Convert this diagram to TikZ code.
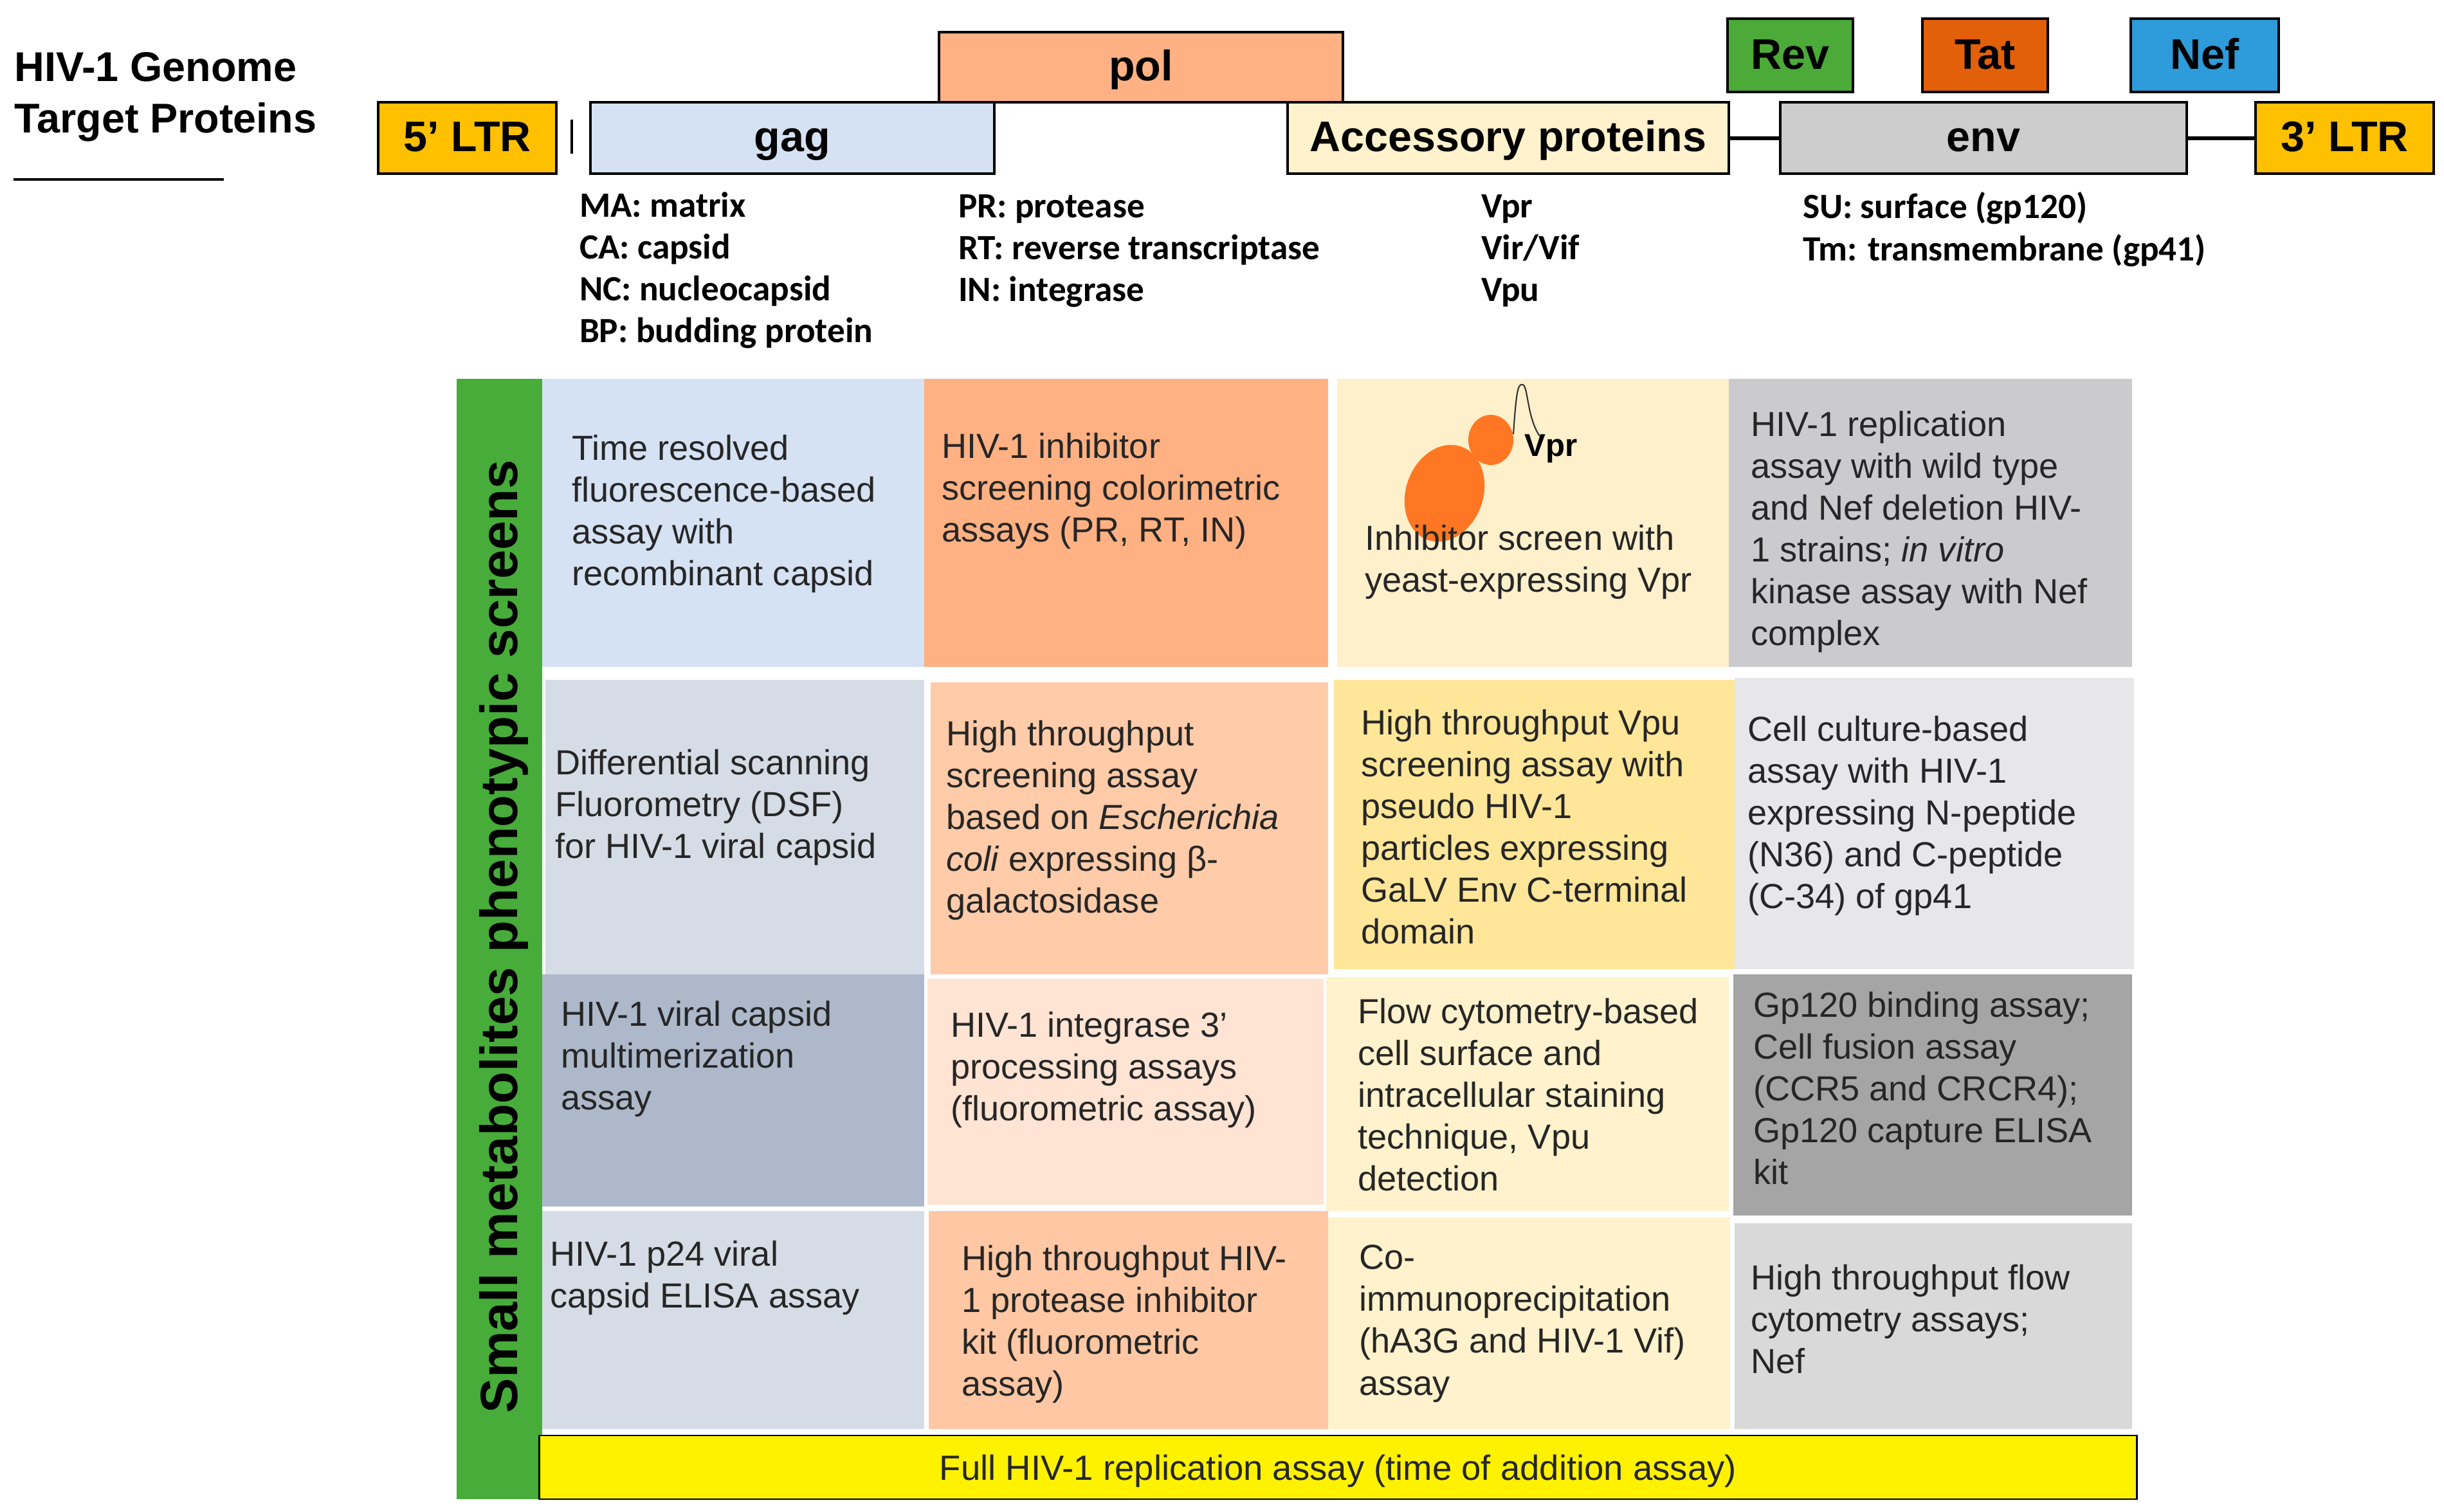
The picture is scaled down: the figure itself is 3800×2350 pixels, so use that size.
\documentclass[tikz,border=0pt]{standalone}
\usepackage{fontspec}
\setmainfont{Liberation Sans}
\newfontfamily\carl{Carlito}
\newcommand{\bodyf}{\fontsize{15.4pt}{18.5pt}\selectfont}
\newcommand{\boxf}{\fontsize{18.9pt}{22pt}\selectfont\bfseries}
\newcommand{\smallf}{\carl\fontsize{15.7pt}{18.5pt}\selectfont\bfseries}
\definecolor{ltrc}{HTML}{FFC000}
\definecolor{gagc}{HTML}{D5E2F3}
\definecolor{polc}{HTML}{FFB183}
\definecolor{accc}{HTML}{FFF2CC}
\definecolor{envc}{HTML}{CDCDCD}
\definecolor{revc}{HTML}{4BAA38}
\definecolor{tatc}{HTML}{E26009}
\definecolor{nefc}{HTML}{2E9BDA}
\definecolor{stripc}{HTML}{47AC3A}
\definecolor{yeastc}{HTML}{FF7722}
\definecolor{ca}{HTML}{D5E2F3}
\definecolor{cb}{HTML}{FFB183}
\definecolor{cc}{HTML}{FFF0CC}
\definecolor{cd}{HTML}{CBCBCD}
\definecolor{da}{HTML}{D6DCE5}
\definecolor{db}{HTML}{FFCBA8}
\definecolor{dc}{HTML}{FFE699}
\definecolor{dd}{HTML}{E7E6E8}
\definecolor{ea}{HTML}{ADB9CA}
\definecolor{eb}{HTML}{FFE3D3}
\definecolor{ec}{HTML}{FFF2CC}
\definecolor{ed}{HTML}{A5A5A5}
\definecolor{fa}{HTML}{D6DCE5}
\definecolor{fb}{HTML}{FFC7A3}
\definecolor{fc}{HTML}{FFF2CC}
\definecolor{fd}{HTML}{D9D9D9}
\tikzset{
  gbox/.style={draw=black,line width=1.1pt,inner sep=0pt,outer sep=0pt,font=\boxf,text=black,text height=13.6pt,text depth=1.5pt},
  body/.style={anchor=north west,inner sep=0pt,outer sep=0pt,align=left,font=\bodyf,text=black!85},
  small/.style={anchor=north west,inner sep=0pt,outer sep=0pt,align=left,font=\smallf},
  link/.style={line width=1.7pt,black}
}
% x1 y1 x2 y2 colour name textpos text
\newcommand{\cell}[8]{\fill[#5] (#1,#2) rectangle (#3,#4);\node[body] (#6) at (#7) {#8};}
\begin{document}
\begin{tikzpicture}[x=0.01cm,y=-0.01cm]
\useasboundingbox (0,0) rectangle (3800,2350);
% heading
\node[anchor=north west,inner sep=0pt,align=left,font=\fontsize{18.4pt}{22.5pt}\selectfont\bfseries] (title) at (22,81) {HIV-1 Genome\\Target Proteins};
\draw[line width=1pt] (21,279) coordinate (ula) -- (348,279) coordinate (ulb);
% genome boxes
\node[gbox,fill=ltrc,minimum width=2.77cm,minimum height=1.11cm] (ltrfive) at (726.5,214.5) {5’ LTR};
\node[gbox,fill=polc,minimum width=6.28cm,minimum height=1.09cm] (pol) at (1774,104.5) {pol};
\node[gbox,fill=gagc,minimum width=6.28cm,minimum height=1.11cm] (gag) at (1232,214.5) {gag};
\node[gbox,fill=accc,minimum width=6.86cm,minimum height=1.11cm] (acc) at (2345,214.5) {Accessory proteins};
\node[gbox,fill=envc,minimum width=6.32cm,minimum height=1.11cm] (env) at (3084,214.5) {env};
\node[gbox,fill=ltrc,minimum width=2.77cm,minimum height=1.11cm] (ltrthree) at (3645.5,214.5) {3’ LTR};
\node[gbox,fill=revc,minimum width=1.95cm,minimum height=1.14cm] (rev) at (2783.5,86) {Rev};
\node[gbox,fill=tatc,minimum width=1.95cm,minimum height=1.14cm] (tat) at (3086.5,86) {Tat};
\node[gbox,fill=nefc,minimum width=2.30cm,minimum height=1.14cm] (nef) at (3428,86) {Nef};
\draw[link] (acc.east) -- (env.west);
\draw[link] (env.east) -- (ltrthree.west);
\draw[line width=1.4pt] (889,186) coordinate (bara) -- (889,239) coordinate (barb);
% lists
\node[small] (lgag) at (901,299) {MA: matrix\\CA: capsid\\NC: nucleocapsid\\BP: budding protein};
\node[small] (lpol) at (1490,303) {PR: protease\\RT: reverse transcriptase\\IN: integrase};
\node[small] (lacc) at (2303,303) {Vpr\\Vir/Vif\\Vpu};
\node[small] (lenv) at (2803,299) {SU: surface (gp120)\\Tm: transmembrane (gp41)};
% strip
\fill[stripc] (710,589) rectangle (843,2331);
\node[rotate=90,inner sep=0pt,font=\fontsize{23.2pt}{26pt}\selectfont\bfseries,text=black] (strip) at (783,1456) {Small metabolites phenotypic screens};
% row 1
\cell{843}{589}{1437}{1037}{ca}{taa}{889,676}{Time resolved\\fluorescence-based\\assay with\\recombinant capsid}
\cell{1437}{589}{2065}{1037}{cb}{tab}{1464,673}{HIV-1 inhibitor\\screening colorimetric\\assays (PR, RT, IN)}
\fill[cc] (2079,589) rectangle (2688,1037);
\fill[yeastc,rotate around={-20:(2246,767)}] (2246,767) ellipse (60 and 77);
\fill[yeastc] (2318,684) ellipse (35 and 39);
\draw[line width=0.6pt,black!80] (2353,675) .. controls (2358,600) and (2361,598) .. (2367,598) .. controls (2376,598) and (2374,650) .. (2394,678);
\node[inner sep=0pt,font=\fontsize{14pt}{15pt}\selectfont\bfseries] (vpr) at (2412,698) {Vpr};
\node[body] (tac) at (2122,816) {Inhibitor screen with\\yeast-expressing Vpr};
\cell{2688}{589}{3315}{1037}{cd}{tad}{2722,639}{HIV-1 replication\\assay with wild type\\and Nef deletion HIV-\\1 strains; \textit{in vitro}\\kinase assay with Nef\\complex}
% row 2
\cell{848}{1057}{1437}{1515}{da}{tba}{863,1165}{Differential scanning\\Fluorometry (DSF)\\for HIV-1 viral capsid}
\cell{1447}{1061}{2065}{1515}{db}{tbb}{1471,1120}{High throughput\\screening assay\\based on \textit{Escherichia}\\\textit{coli} expressing β-\\galactosidase}
\cell{2074}{1057}{2697}{1507}{dc}{tbc}{2116,1103}{High throughput Vpu\\screening assay with\\pseudo HIV-1\\particles expressing\\GaLV Env C-terminal\\domain}
\cell{2697}{1054}{3318}{1507}{dd}{tbd}{2717,1113}{Cell culture-based\\assay with HIV-1\\expressing N-peptide\\(N36) and C-peptide\\(C-34) of gp41}
% row 3
\cell{843}{1515}{1437}{1876}{ea}{tca}{872,1556}{HIV-1 viral capsid\\multimerization\\assay}
\cell{1442}{1522}{2058}{1873}{eb}{tcb}{1478,1573}{HIV-1 integrase 3’\\processing assays\\(fluorometric assay)}
\cell{2062}{1519}{2688}{1883}{ec}{tcc}{2111,1552}{Flow cytometry-based\\cell surface and\\intracellular staining\\technique, Vpu\\detection}
\cell{2695}{1515}{3315}{1890}{ed}{tcd}{2726,1542}{Gp120 binding assay;\\Cell fusion assay\\(CCR5 and CRCR4);\\Gp120 capture ELISA\\kit}
% row 4
\cell{843}{1883}{1437}{2222}{fa}{tda}{855,1929}{HIV-1 p24 viral\\capsid ELISA assay}
\cell{1444}{1883}{2065}{2222}{fb}{tdb}{1495,1936}{High throughput HIV-\\1 protease inhibitor\\kit (fluorometric\\assay)}
\cell{2065}{1893}{2690}{2222}{fc}{tdc}{2113,1936}{Co-\\immunoprecipitation\\(hA3G and HIV-1 Vif)\\assay}
\cell{2697}{1902}{3315}{2222}{fd}{tdd}{2722,1966}{High throughput flow\\cytometry assays;\\Nef}
% bottom bar
\node[draw=black,line width=0.8pt,fill=yellow,inner sep=0pt,outer sep=0pt,minimum width=24.83cm,minimum height=0.99cm,font=\fontsize{15.5pt}{17pt}\selectfont,text=black!85,text height=11.2pt,text depth=0pt] (full) at (2080.5,2281.5) {Full HIV-1 replication assay (time of addition assay)};
\end{tikzpicture}
\end{document}
